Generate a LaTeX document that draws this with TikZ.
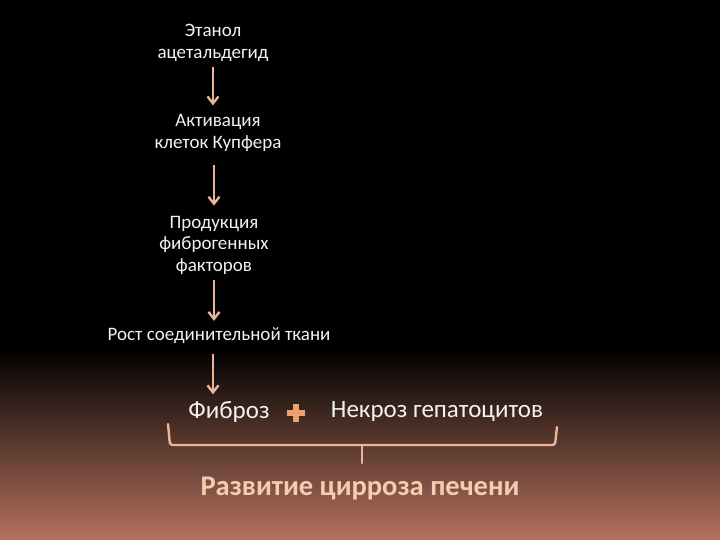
\documentclass[tikz,border=0pt]{standalone}
\usepackage{fontspec}
\setmainfont{Carlito}
\usetikzlibrary{arrows.meta,positioning,calc}
\definecolor{peach}{RGB}{235,180,150}
\definecolor{lightpeach}{RGB}{242,205,175}
\definecolor{plusorange}{RGB}{238,160,110}
\definecolor{textwhite}{RGB}{242,242,242}
\definecolor{bottombrown}{RGB}{180,114,94}

\begin{document}
\begin{tikzpicture}[x=1pt,y=-1pt,
    txt/.style={text=textwhite, align=center, font=\fontsize{19}{21.5}\selectfont, inner sep=1pt},
    big/.style={text=textwhite, font=\fontsize{25}{28}\selectfont, inner sep=1pt},
    arr/.style={draw=peach, line width=2.4pt, -{Straight Barb[length=7pt,width=11pt]}},
    bracket/.style={draw=peach, line width=2.4pt, line cap=round, rounded corners=2pt}]
    \useasboundingbox (0,0) rectangle (720,540);

    % Background
    \fill[black] (0,0) rectangle (720,540);
    \shade[top color=black, bottom color=bottombrown] (0,348) rectangle (720,540);

    % Chain of steps
    \node[txt] (etanol) at (213,43) {Этанол\\ацетальдегид};
    \node[txt] (kupfer) at (218,133) {Активация\\клеток Купфера};
    \node[txt] (faktor) at (214,245) {Продукция\\фиброгенных\\факторов};
    \node[txt] (rost) at (219,336) {Рост соединительной ткани};

    % Arrows
    \draw[arr, shorten <=4pt, shorten >=8pt] (etanol.south) -- (etanol.south |- kupfer.north);
    \draw[arr, shorten <=12pt, shorten >=9pt] (faktor.north |- kupfer.south) -- (faktor.north);
    \draw[arr, shorten <=5pt, shorten >=6pt] (faktor.south) -- (faktor.south |- rost.north);

    % Fibrosis + necrosis
    \node[big] (fibroz) at (229,412) {Фиброз};
    \node[big] (nekroz) at (437,412) {Некроз гепатоцитов};
    \fill[plusorange] (293,404) rectangle (299,422);
    \fill[plusorange] (287,410) rectangle (305,416);
    \draw[arr, shorten <=9pt, shorten >=6pt] (etanol.south |- rost.south) -- (etanol.south |- fibroz.north);

    % Bracket
    \coordinate (bl) at (168,424);
    \coordinate (br) at (557,427);
    \coordinate (bm) at (362,445);
    \draw[bracket] (bl) -- (170,445) -- (555,445) -- (br);
    \draw[bracket] (bm) -- (362,463);

    % Result
    \node[text=lightpeach, font=\bfseries\fontsize{28.5}{31}\selectfont] (cirroz) at (360,489) {Развитие цирроза печени};
\end{tikzpicture}
\end{document}
